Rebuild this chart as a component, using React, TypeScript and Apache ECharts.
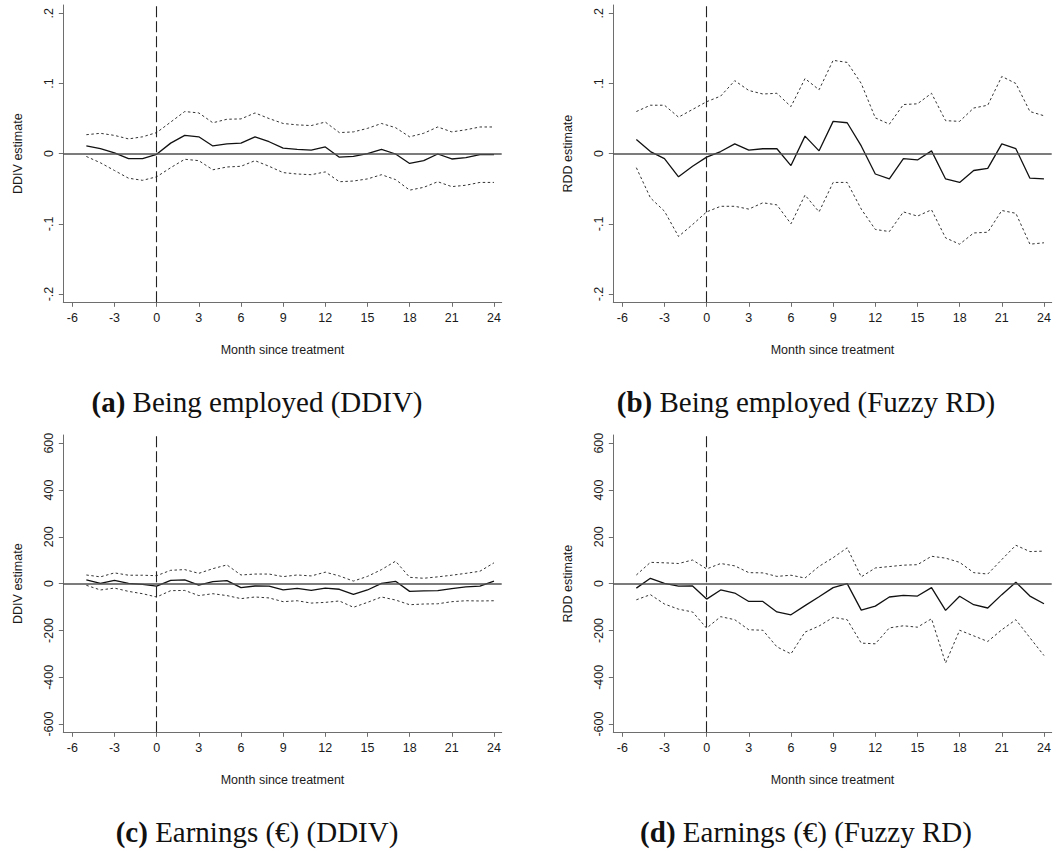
import React, { useEffect, useRef } from "react";
import * as echarts from "echarts";

// ---------- data ----------
const months = [-5, -4, -3, -2, -1, 0, 1, 2, 3, 4, 5, 6, 7, 8, 9, 10, 11, 12, 13, 14, 15, 16, 17, 18, 19, 20, 21, 22, 23, 24];
const xTicks = [-6, -3, 0, 3, 6, 9, 12, 15, 18, 21, 24];
const yTicksEmployed = [-0.2, -0.1, 0, 0.1, 0.2];
const yTicksEarnings = [-600, -400, -200, 0, 200, 400, 600];

// (a) Being employed (DDIV)
const empDdivEst = [0.011, 0.007, 0.001, -0.007, -0.007, -0.001, 0.015, 0.026, 0.024, 0.011, 0.014, 0.015, 0.024, 0.017, 0.008, 0.006, 0.005, 0.0095, -0.005, -0.004, 0.0, 0.006, -0.0005, -0.014, -0.01, -0.0005, -0.0076, -0.0057, -0.0014, -0.0014];
const empDdivHi = [0.027, 0.029, 0.026, 0.021, 0.024, 0.03, 0.045, 0.06, 0.058, 0.044, 0.049, 0.0495, 0.058, 0.05, 0.043, 0.041, 0.04, 0.045, 0.03, 0.031, 0.036, 0.043, 0.037, 0.024, 0.029, 0.038, 0.031, 0.034, 0.038, 0.038];
const empDdivLo = [-0.004, -0.013, -0.024, -0.035, -0.038, -0.033, -0.02, -0.008, -0.01, -0.023, -0.019, -0.018, -0.01, -0.018, -0.027, -0.029, -0.03, -0.026, -0.04, -0.039, -0.036, -0.03, -0.037, -0.052, -0.048, -0.04, -0.047, -0.045, -0.041, -0.041];

// (b) Being employed (Fuzzy RD)
const empRdEst = [0.02, 0.003, -0.007, -0.033, -0.018, -0.005, 0.003, 0.014, 0.005, 0.007, 0.007, -0.017, 0.025, 0.004, 0.046, 0.044, 0.011, -0.029, -0.036, -0.007, -0.009, 0.004, -0.036, -0.041, -0.024, -0.021, 0.014, 0.007, -0.035, -0.036];
const empRdHi = [0.06, 0.069, 0.069, 0.052, 0.063, 0.074, 0.082, 0.104, 0.09, 0.085, 0.086, 0.067, 0.107, 0.091, 0.133, 0.13, 0.1, 0.051, 0.042, 0.07, 0.071, 0.086, 0.047, 0.046, 0.065, 0.069, 0.11, 0.1, 0.06, 0.054];
const empRdLo = [-0.02, -0.063, -0.082, -0.118, -0.101, -0.083, -0.075, -0.075, -0.079, -0.07, -0.073, -0.1, -0.059, -0.083, -0.041, -0.041, -0.079, -0.108, -0.111, -0.083, -0.089, -0.08, -0.12, -0.129, -0.113, -0.112, -0.081, -0.085, -0.129, -0.127];

// (c) Earnings (DDIV)
const earnDdivEst = [16, 1, 14, 1, -3, -11, 14, 16, -6, 9, 13, -17, -10, -11, -27, -20, -29, -19, -24, -46, -27, 1, 10, -33, -31, -30, -21, -14, -11, 11];
const earnDdivHi = [37, 29, 46, 36, 36, 34, 57, 60, 44, 64, 80, 37, 41, 41, 30, 37, 33, 49, 33, 11, 31, 60, 96, 27, 23, 29, 36, 44, 53, 89];
const earnDdivLo = [-7, -27, -19, -33, -43, -57, -30, -29, -51, -43, -51, -64, -57, -61, -77, -73, -83, -80, -74, -101, -80, -57, -70, -90, -87, -86, -77, -73, -74, -73];

// (d) Earnings (Fuzzy RD)
const earnRdEst = [-19, 23, 1, -11, -10, -66, -27, -40, -76, -76, -121, -133, -94, -56, -17, 0, -113, -96, -57, -50, -53, -17, -114, -54, -90, -104, -47, 6, -53, -86];
const earnRdHi = [37, 91, 89, 86, 101, 63, 86, 76, 47, 46, 31, 36, 24, 74, 111, 153, 29, 67, 73, 79, 81, 117, 109, 91, 47, 41, 103, 164, 137, 139];
const earnRdLo = [-69, -47, -87, -109, -121, -190, -141, -154, -197, -199, -270, -300, -207, -181, -144, -154, -254, -257, -189, -180, -186, -150, -339, -199, -223, -247, -197, -154, -231, -307];

const captions = [
  ["(a)", "Being employed (DDIV)"],
  ["(b)", "Being employed (Fuzzy RD)"],
  ["(c)", "Earnings (€) (DDIV)"],
  ["(d)", "Earnings (€) (Fuzzy RD)"],
];
const yTitles = ["DDIV estimate", "RDD estimate", "DDIV estimate", "RDD estimate"];

// ---------- layout ----------
const SANS = "'Liberation Sans', Arial, sans-serif";
const SERIF = "'Liberation Serif', 'Times New Roman', serif";
const gridLefts = [63.3, 613.3, 63.3, 613.3];
const gridTops = [5, 5, 435, 435];
const GRID_W = 438.4;
const GRID_H = 297.3;
const captionX = [257, 806, 257, 806];
const captionY = [402, 402, 832, 832];
const CAPTION_SIZE = 29;

const fmtEmp = (v: number) => {
  if (Math.abs(v) < 1e-9) return "0";
  const s = String(Math.round(Math.abs(v) * 10) / 10).replace(/^0/, "");
  return (v < 0 ? "-" : "") + s;
};
const fmtEarn = (v: number) => String(Math.round(v));

function buildOption() {
  const panels = [
    { est: empDdivEst, hi: empDdivHi, lo: empDdivLo, ticks: yTicksEmployed, min: -0.2118, max: 0.2118, fmt: fmtEmp },
    { est: empRdEst, hi: empRdHi, lo: empRdLo, ticks: yTicksEmployed, min: -0.2118, max: 0.2118, fmt: fmtEmp },
    { est: earnDdivEst, hi: earnDdivHi, lo: earnDdivLo, ticks: yTicksEarnings, min: -635, max: 635, fmt: fmtEarn },
    { est: earnRdEst, hi: earnRdHi, lo: earnRdLo, ticks: yTicksEarnings, min: -635, max: 635, fmt: fmtEarn },
  ];
  const axisColor = "#6e6e6e";
  const grid: any[] = [];
  const xAxis: any[] = [];
  const yAxis: any[] = [];
  const series: any[] = [];
  panels.forEach((p, i) => {
    grid.push({ left: gridLefts[i], top: gridTops[i], width: GRID_W, height: GRID_H, containLabel: false });
    xAxis.push({
      type: "value",
      gridIndex: i,
      min: -6.64,
      max: 24.55,
      name: "Month since treatment",
      nameLocation: "middle",
      nameGap: 41,
      nameTextStyle: { fontFamily: SANS, fontSize: 12.5, color: "#1a1a1a" },
      axisLine: { show: true, onZero: false, lineStyle: { color: axisColor, width: 1 } },
      axisTick: { show: true, length: 4.5, customValues: xTicks, lineStyle: { color: axisColor } },
      axisLabel: { customValues: xTicks, margin: 9, fontFamily: SANS, fontSize: 12.5, color: "#1a1a1a" },
      splitLine: { show: false },
    });
    yAxis.push({
      type: "value",
      gridIndex: i,
      min: p.min,
      max: p.max,
      name: yTitles[i],
      nameLocation: "middle",
      nameRotate: 90,
      nameGap: 39,
      nameTextStyle: { fontFamily: SANS, fontSize: 12.5, color: "#1a1a1a" },
      axisLine: { show: true, onZero: false, lineStyle: { color: axisColor, width: 1 } },
      axisTick: { show: true, length: 4.5, customValues: p.ticks, lineStyle: { color: axisColor } },
      axisLabel: { customValues: p.ticks, rotate: 90, margin: 8, fontFamily: SANS, fontSize: 12.5, color: "#1a1a1a", formatter: p.fmt },
      splitLine: { show: false },
    });
    const toPairs = (arr: number[]) => months.map((m, k) => [m, arr[k]]);
    const dotted = { color: "#333", width: 1, type: [2.5, 2.5] };
    series.push({
      type: "line", xAxisIndex: i, yAxisIndex: i, data: toPairs(p.hi), symbol: "none",
      lineStyle: dotted, silent: true,
    });
    series.push({
      type: "line", xAxisIndex: i, yAxisIndex: i, data: toPairs(p.lo), symbol: "none",
      lineStyle: dotted, silent: true,
    });
    series.push({
      type: "line", xAxisIndex: i, yAxisIndex: i, data: toPairs(p.est), symbol: "none",
      lineStyle: { color: "#111", width: 1.3 }, silent: true, z: 3,
      markLine: {
        silent: true,
        symbol: "none",
        label: { show: false },
        animation: false,
        data: [
          { yAxis: 0, lineStyle: { color: "#505050", width: 1.6, type: "solid" } },
          { xAxis: 0, lineStyle: { color: "#222", width: 1.1, type: [11, 4] } },
        ],
      },
    });
  });

  const graphic = captions.map((c, i) => ({
    type: "text",
    x: captionX[i],
    y: captionY[i],
    style: {
      text: `{b|${c[0]}} ${c[1]}`,
      font: `${CAPTION_SIZE}px ${SERIF}`,
      fill: "#111",
      align: "center",
      verticalAlign: "middle",
      rich: {
        b: { fontWeight: "bold", fontSize: CAPTION_SIZE, fontFamily: SERIF, fill: "#111" },
      },
    },
  }));

  return { animation: false, backgroundColor: "#fff", grid, xAxis, yAxis, series, graphic };
}

export default function App() {
  const ref = useRef<HTMLDivElement>(null);
  useEffect(() => {
    if (!ref.current) return;
    const chart = echarts.init(ref.current, undefined, { renderer: "svg" });
    chart.setOption(buildOption());
    return () => chart.dispose();
  }, []);
  return (
    <div
      ref={ref}
      style={{ position: "absolute", left: 0, top: 0, width: 1057, height: 851, background: "#fff" }}
    />
  );
}
